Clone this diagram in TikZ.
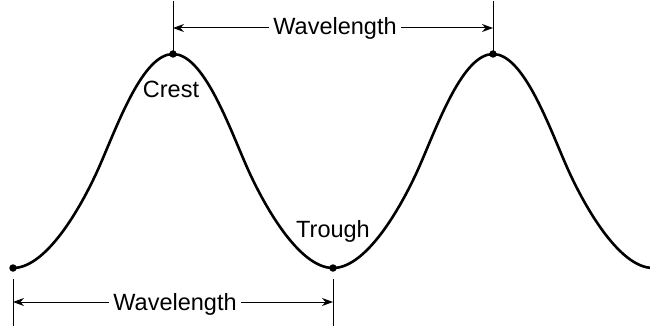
\documentclass[tikz,border=0pt]{standalone}
\usepackage{fontspec}
\setmainfont{Liberation Sans}
\usetikzlibrary{arrows.meta}
\begin{document}
\begin{tikzpicture}[x=1pt,y=-1pt,
  wave/.style={line width=2.6pt, line join=round},
  dot/.style={circle, fill=black, inner sep=0pt, minimum size=7.5pt},
  tickline/.style={line width=1pt},
  dimarrow/.style={line width=1pt, -{Stealth[length=11pt,width=8pt,inset=3.5pt]}},
  lbl/.style={font=\fontsize{23.5}{28}\selectfont, inner sep=0pt, anchor=base},
  wl/.style={lbl, inner xsep=4.5pt},
]
\useasboundingbox (0,0) rectangle (650,326);
\begin{scope}
\clip (0,0) rectangle (650,326);
\draw[wave]
  (13,268) .. controls (48,268) and (84,201.7) .. (100,165)
           .. controls (118,123.7) and (143,54) .. (173,54)
           .. controls (203,54) and (228,123.7) .. (246,165)
           .. controls (262,201.7) and (298,268) .. (333,268)
           .. controls (368,268) and (404,201.7) .. (420,165)
           .. controls (438,123.7) and (463,54) .. (493,54)
           .. controls (523,54) and (548,123.7) .. (566,165)
           .. controls (582,201.7) and (618,268) .. (653,268);
\end{scope}
% dots
\node[dot] (d1) at (13,268) {};
\node[dot] (d2) at (173,54) {};
\node[dot] (d3) at (333,268) {};
\node[dot] (d4) at (493,54) {};
% labels
\node[lbl] (crest) at (171,98) {Crest};
\node[lbl] (trough) at (333,237) {Trough};
% top dimension
\coordinate (tt1) at (173,1);
\coordinate (tt2) at (493,1);
\coordinate (ta1) at (173,28);
\coordinate (ta2) at (493,28);
\draw[tickline] (d2.center) -- (tt1);
\draw[tickline] (d4.center) -- (tt2);
\node[wl] (wlTop) at (335,35) {Wavelength};
\draw[dimarrow] (wlTop.west |- ta1) -- (ta1);
\draw[dimarrow] (wlTop.east |- ta2) -- (ta2);
% bottom dimension
\coordinate (bt1a) at (13,279);
\coordinate (bt1b) at (13,326);
\coordinate (bt2a) at (333,279);
\coordinate (bt2b) at (333,326);
\coordinate (ba1) at (13,302);
\coordinate (ba2) at (333,302);
\draw[tickline] (bt1a) -- (bt1b);
\draw[tickline] (bt2a) -- (bt2b);
\node[wl] (wlBot) at (175,310) {Wavelength};
\draw[dimarrow] (wlBot.west |- ba1) -- (ba1);
\draw[dimarrow] (wlBot.east |- ba2) -- (ba2);
\end{tikzpicture}
\end{document}
